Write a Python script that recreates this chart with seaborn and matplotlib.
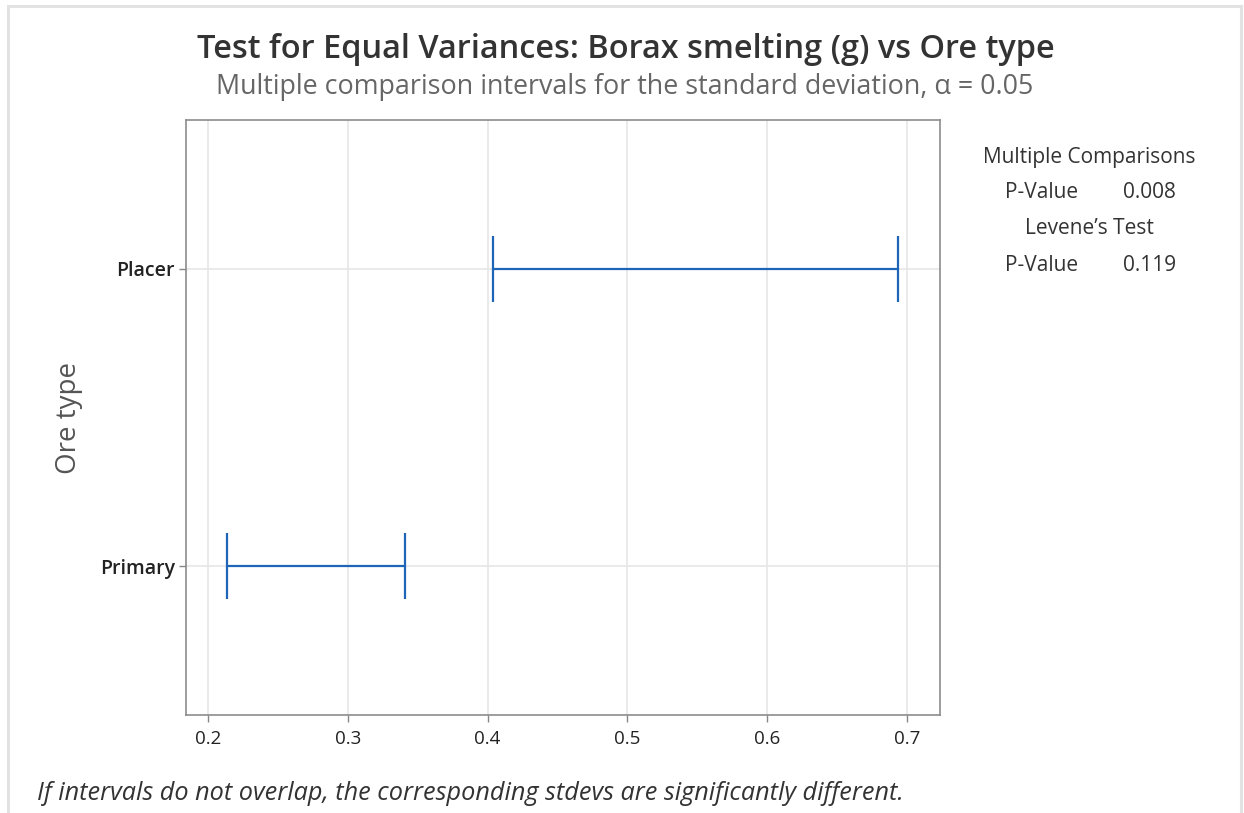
import pandas as pd
import matplotlib.pyplot as plt
import seaborn as sns
from matplotlib.patches import Rectangle

# interval data
ore_types = ["Primary", "Placer"]
lower = [0.2135, 0.4040]
upper = [0.3410, 0.6935]
x_ticks = [0.2, 0.3, 0.4, 0.5, 0.6, 0.7]

title = "Test for Equal Variances: Borax smelting (g) vs Ore type"
subtitle = "Multiple comparison intervals for the standard deviation, \u03b1 = 0.05"
footnote = "If intervals do not overlap, the corresponding stdevs are significantly different."

mc_pvalue = "0.008"
levene_pvalue = "0.119"

sns.set_style("white")
plt.rcParams["font.family"] = ["Open Sans", "DejaVu Sans"]

BLUE = "#1E65B8"
GRID = "#e6e6e6"

pos = list(range(1, len(ore_types) + 1))
long_df = pd.DataFrame({
    "ore": ore_types * 2,
    "pos": pos * 2,
    "value": lower + upper,
})

fig = plt.figure(figsize=(12.44, 8.13), dpi=100)
ax = fig.add_axes([186 / 1244, 1 - 715 / 813, (940 - 186) / 1244, (715 - 120) / 813])

# horizontal interval lines
sns.lineplot(data=long_df, x="value", y="pos", units="ore", estimator=None,
             sort=False, color=BLUE, linewidth=1.6, ax=ax, legend=False, zorder=3)
# end caps
sns.scatterplot(data=long_df, x="value", y="pos", marker="|", s=2300,
                color=BLUE, linewidth=1.6, ax=ax, legend=False, zorder=3)

ax.set_xlim(0.1843, 0.7236)
ax.set_ylim(0.5, 2.5)
ax.set_xticks(x_ticks)
ax.set_xticklabels([f"{t:.1f}" for t in x_ticks], fontsize=13.5, color="#222222")
ax.set_yticks(pos)
ax.set_yticklabels(ore_types, fontsize=14, fontweight="semibold", color="#222222")
ax.grid(True, color=GRID, linewidth=1.2, zorder=0)
ax.set_axisbelow(True)
ax.tick_params(axis="both", direction="out", length=5, width=1, color="#888888",
               bottom=True, left=True)
ax.tick_params(axis="x", pad=6)
ax.tick_params(axis="y", pad=3)
for s in ax.spines.values():
    s.set_color("#8c8c8c")
    s.set_linewidth(1.2)

ax.set_xlabel("")
ax.set_ylabel("Ore type", fontsize=20, color="#555555", labelpad=12)

fig.text(0.503, 1 - 50 / 813, title, ha="center", va="center",
         fontsize=23.4, fontweight="semibold", color="#333333")
fig.text(0.502, 1 - 87 / 813, subtitle, ha="center", va="center",
         fontsize=19.4, color="#666666")
fig.text(37 / 1244, 1 - 793 / 813, footnote, ha="left", va="center",
         fontsize=18.2, style="italic", color="#333333")

# side panel with p-values
side = dict(fontsize=15, color="#333333", va="center")
fig.text(1089 / 1244, 1 - 157 / 813, "Multiple Comparisons", ha="center", **side)
fig.text(1005 / 1244, 1 - 193 / 813, "P-Value", ha="left", **side)
fig.text(1176 / 1244, 1 - 193 / 813, mc_pvalue, ha="right", **side)
fig.text(1089 / 1244, 1 - 229 / 813, "Levene\u2019s Test", ha="center", **side)
fig.text(1005 / 1244, 1 - 265 / 813, "P-Value", ha="left", **side)
fig.text(1176 / 1244, 1 - 265 / 813, levene_pvalue, ha="right", **side)

# light outer frame
fig.patches.append(Rectangle((8 / 1244, -0.05), (1241 - 8) / 1244, 1.05 - 6 / 813,
                             transform=fig.transFigure, fill=False,
                             edgecolor="#e2e2e2", linewidth=2.2))

fig.savefig("out.png", dpi=100)
